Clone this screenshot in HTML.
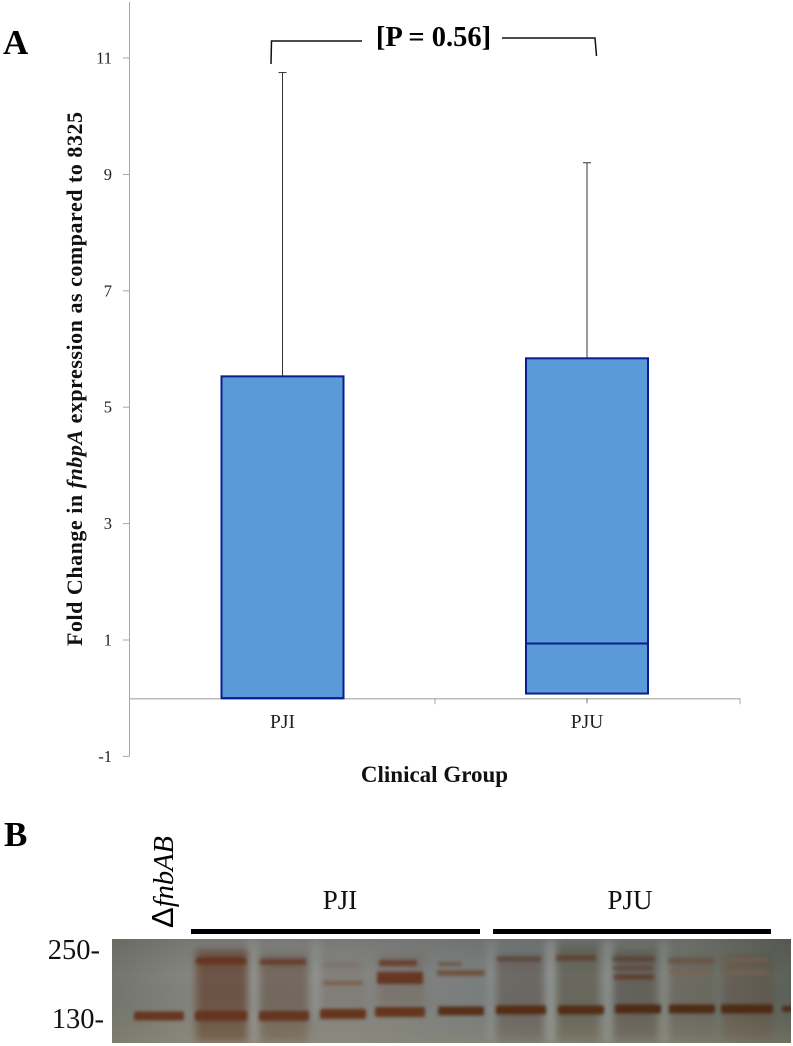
<!DOCTYPE html>
<html>
<head>
<meta charset="utf-8">
<title>fnbpA expression by clinical group</title>
<style>
html,body{margin:0;padding:0;background:#fff;}
body{width:793px;height:1046px;overflow:hidden;}
svg{display:block;font-family:"Liberation Serif",serif;}
</style>
</head>
<body>
<svg id="fig" xmlns="http://www.w3.org/2000/svg" width="793" height="1046" viewBox="0 0 793 1046">
<defs>
<filter id="b1" x="-20%" y="-80%" width="140%" height="260%" color-interpolation-filters="sRGB"><feGaussianBlur stdDeviation="1.5"/></filter>
<filter id="b2" x="-20%" y="-20%" width="140%" height="140%" color-interpolation-filters="sRGB"><feGaussianBlur stdDeviation="4"/></filter>
<clipPath id="blotClip"><rect x="112" y="939" width="679" height="104"/></clipPath>
<linearGradient id="blotBg" x1="0" y1="0" x2="1" y2="0">
<stop offset="0" stop-color="#74766e"/><stop offset=".12" stop-color="#85867f"/><stop offset=".35" stop-color="#868784"/><stop offset=".6" stop-color="#777c7c"/><stop offset=".85" stop-color="#747870"/><stop offset="1" stop-color="#5c6159"/>
</linearGradient>
<linearGradient id="blotLow" x1="0" y1="0" x2="0" y2="1">
<stop offset="0" stop-color="#000" stop-opacity=".1"/><stop offset=".35" stop-color="#000" stop-opacity="0"/><stop offset=".75" stop-color="#8a8060" stop-opacity=".06"/><stop offset="1" stop-color="#9a9070" stop-opacity=".3"/>
</linearGradient>
</defs>

<g id="chart"></g>

<text x="3" y="54" font-size="35" font-weight="bold" fill="#000">A</text>
<text x="4" y="846" font-size="35" font-weight="bold" fill="#000">B</text>

<g fill="none" stroke="#111" stroke-width="1.5">
<path d="M271 64 L271.5 41 L362 41"/>
<path d="M502 38 L595 38 L596.5 56"/>
</g>
<text x="433.5" y="46" font-size="28.5" font-weight="bold" text-anchor="middle" fill="#000">[P = 0.56]</text>

<text transform="translate(82,379) rotate(-90)" font-size="22" font-weight="bold" text-anchor="middle" textLength="534" fill="#111">Fold Change in <tspan font-style="italic">fnbpA</tspan> expression as compared to 8325</text>
<text x="434.5" y="782" font-size="23" font-weight="bold" text-anchor="middle" fill="#111">Clinical Group</text>

<text transform="translate(173,928) rotate(-90)" font-size="28.5" fill="#000"><tspan font-family="'Liberation Sans',sans-serif" font-size="31">Δ</tspan><tspan font-style="italic">fnbAB</tspan></text>
<text x="340" y="909" font-size="27" text-anchor="middle" fill="#111">PJI</text>
<text x="630" y="909" font-size="27" text-anchor="middle" fill="#111">PJU</text>
<rect x="191" y="929" width="289" height="5" fill="#000"/>
<rect x="493" y="929" width="278" height="5" fill="#000"/>
<text x="100" y="959" font-size="28.5" text-anchor="end" fill="#111">250-</text>
<text x="104" y="1028" font-size="28.5" text-anchor="end" fill="#111">130-</text>

<g id="blot" clip-path="url(#blotClip)">
<rect x="112" y="939" width="679" height="104" fill="url(#blotBg)"/>
<g id="smears" filter="url(#b2)"></g>
<g id="bands" filter="url(#b1)"></g>
<rect x="112" y="939" width="679" height="104" fill="url(#blotLow)"/>
</g>
</svg>

<script>
// Chart data
const categories = ['PJI', 'PJU'];
const q1Values = [0, 0.08];
const medianValues = [0, 0.94];
const q3Values = [5.53, 5.84];
const whiskerTopValues = [10.75, 9.2];
const yTickLabels = [11, 9, 7, 5, 3, 1, -1];

// Blot bands: lane left, row centre, width, height, colour, opacity
const blotBands = [
  [134,1016,50,9,'#64301a',.97],
  [196,961,50,7,'#6a3620',.95],[195,1016,52,10,'#62301a',.97],
  [260,962,46,6,'#6a3e2c',.9],[259,1016,50,10,'#62301a',.97],
  [323,983,40,4,'#80583e',.8],[323,965,36,3,'#7a6858',.5],[320,1014,46,10,'#623016',.97],
  [379,963,38,6,'#6a3e2c',.9],[377,978,46,12,'#663420',.95],[375,1012,50,10,'#623016',.97],
  [438,964,24,4,'#6d5444',.8],[437,973,48,6,'#6e4c38',.85],[438,1011,46,9,'#562a12',.97],
  [497,959,44,5,'#5e483c',.85],[496,1010,50,9,'#522810',.97],
  [556,958,40,6,'#604432',.85],[558,1010,46,9,'#522810',.97],
  [613,959,42,5,'#5e4434',.85],[613,968,40,4,'#624636',.8],[614,977,40,5,'#623c2c',.9],[615,1009,46,9,'#4c2610',.97],
  [668,961,46,6,'#6e5644',.8],[670,972,42,6,'#7a6450',.6],[669,1009,46,9,'#4c2610',.97],
  [722,960,46,5,'#78644e',.7],[722,972,46,6,'#78644e',.6],[721,1009,52,9,'#4a2610',.97],
  [782,1009,11,6,'#4a2610',.9]
];
// Lane smears: left, top, width, height, colour, opacity
const blotSmears = [
  [196,950,52,92,'#5e3420',.6],[260,955,48,87,'#604636',.45],
  [320,960,44,60,'#7a6c5e',.25],[378,955,46,50,'#6c4c3c',.25],
  [497,955,46,85,'#5c4c42',.4],[556,945,42,95,'#5c523e',.45],
  [613,950,44,90,'#4e423a',.4],[670,955,44,85,'#5e5244',.3],[723,955,50,85,'#5e443a',.35],
  [546,939,10,104,'#b0b4b0',.5],[603,939,10,104,'#a8acaa',.45],[660,939,8,104,'#a8acaa',.35],
  [487,939,8,104,'#a8acaa',.35],[312,939,8,75,'#a8acaa',.4],[248,939,10,104,'#a8acaa',.4]
];

// Axis functions
const SVGNS = 'http://www.w3.org/2000/svg';
const yScale = v => 698.2 - v * 58.2;
const bandX0 = 129.5, bandStep = 305;
const xCentre = i => bandX0 + bandStep * (i + 0.5) + (i === 0 ? 0.5 : 0);
const boxHalf = 61;

function mk(parent, tag, attrs) {
  const el = document.createElementNS(SVGNS, tag);
  for (const k in attrs) el.setAttribute(k, attrs[k]);
  parent.appendChild(el);
  return el;
}

const chart = document.getElementById('chart');
const AXIS = '#a8a8a8';

const yAxis = mk(chart, 'line', {x1: bandX0, x2: bandX0, y1: 2, y2: yScale(-1), stroke: AXIS, 'stroke-width': 1});



yTickLabels.forEach(v => {
  const t = mk(chart, 'line', {x1: bandX0 - 6.5, x2: bandX0, y1: yScale(v), y2: yScale(v), stroke: AXIS, 'stroke-width': 1});
  
  
  const l = mk(chart, 'text', {x: 112, y: yScale(v) + 5.5, 'font-size': 16.5, 'text-anchor': 'end', fill: '#222'});
  l.textContent = v;
  
  
});

const xAxis = mk(chart, 'line', {x1: bandX0, x2: bandX0 + bandStep * categories.length + 0.5, y1: yScale(0) + 0.5, y2: yScale(0) + 0.5, stroke: '#bdbdbd', 'stroke-width': 1.5});



for (let i = 1; i <= categories.length; i++) {
  const t = mk(chart, 'line', {x1: bandX0 + bandStep * i + 0.5, x2: bandX0 + bandStep * i + 0.5, y1: yScale(0), y2: yScale(0) + 6, stroke: AXIS, 'stroke-width': 1});
  
  
}

categories.forEach((c, i) => {
  const cx = xCentre(i);
  const w = mk(chart, 'line', {x1: cx, x2: cx, y1: yScale(whiskerTopValues[i]), y2: yScale(q3Values[i]), stroke: '#333', 'stroke-width': 1});
  
  
  const cap = mk(chart, 'line', {x1: cx - 4, x2: cx + 4, y1: yScale(whiskerTopValues[i]), y2: yScale(whiskerTopValues[i]), stroke: '#333', 'stroke-width': 1});
  
  
  const tick = mk(chart, 'line', {x1: cx, x2: cx, y1: yScale(0), y2: yScale(0) + 5, stroke: i ? '#777' : 'none', 'stroke-width': 1});
  
  
  const top = yScale(q3Values[i]), bot = yScale(q1Values[i]);
  const box = mk(chart, 'rect', {x: cx - boxHalf, y: top, width: boxHalf * 2, height: bot - top, fill: '#5b9ad8', stroke: '#0a1f8f', 'stroke-width': 2});
  
  
  const m = mk(chart, 'line', {x1: cx - boxHalf, x2: cx + boxHalf, y1: yScale(medianValues[i]), y2: yScale(medianValues[i]), stroke: '#0a1f8f', 'stroke-width': 2});
  
  
  const l = mk(chart, 'text', {x: cx, y: yScale(0) + 30, 'font-size': 19.5, 'text-anchor': 'middle', fill: '#222'});
  l.textContent = c;
  
  
});

// Blot
const smearG = document.getElementById('smears');
blotSmears.forEach(s => {
  const r = mk(smearG, 'rect', {x: s[0], y: s[1], width: s[2], height: s[3], fill: s[4], opacity: s[5]});
  
  
});
const bandG = document.getElementById('bands');
blotBands.forEach(b => {
  const r = mk(bandG, 'rect', {x: b[0], y: b[1] - b[3] / 2, width: b[2], height: b[3], rx: 2, fill: b[4], opacity: b[5]});
  
  
});
</script>
</body>
</html>
